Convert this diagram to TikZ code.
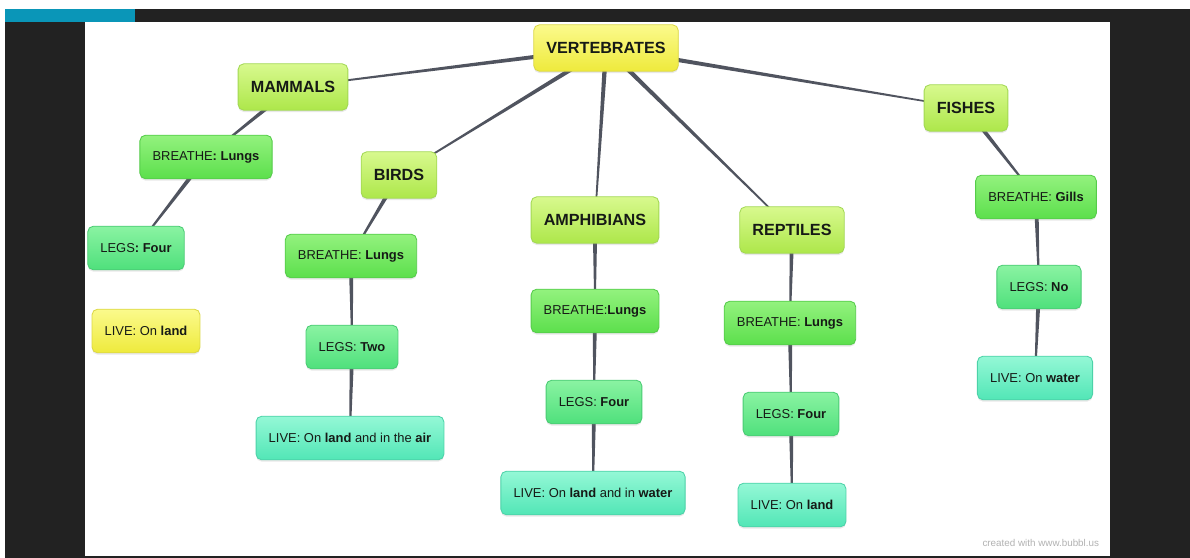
\documentclass[tikz,border=0pt]{standalone}
\usepackage{fontspec}
\setmainfont{Liberation Sans}
\usetikzlibrary{shadows,calc,backgrounds}
\definecolor{frame}{HTML}{222222}
\definecolor{tab}{HTML}{0A96B8}
\definecolor{ink}{HTML}{161A16}
\definecolor{link}{HTML}{50545F}
\definecolor{yelTop}{HTML}{FBFA8C}
\definecolor{yelBot}{HTML}{EEEA3C}
\definecolor{yelLine}{HTML}{DCD845}
\definecolor{limeTop}{HTML}{D8F98E}
\definecolor{limeBot}{HTML}{ADE74A}
\definecolor{limeLine}{HTML}{A2D853}
\definecolor{grnTop}{HTML}{93F27E}
\definecolor{grnBot}{HTML}{5CDF4C}
\definecolor{grnLine}{HTML}{55CC4A}
\definecolor{legTop}{HTML}{8AF3A2}
\definecolor{legBot}{HTML}{4FE07C}
\definecolor{legLine}{HTML}{4ACB74}
\definecolor{aquaTop}{HTML}{94F8D6}
\definecolor{aquaBot}{HTML}{52E6B6}
\definecolor{aquaLine}{HTML}{4CD2A8}
\tikzset{
	box/.style={rounded corners=4pt, inner xsep=9pt, minimum height=31pt, text=ink,
		line width=0.6pt, font=\fontsize{9.2}{11}\selectfont,
		drop shadow={opacity=0.18, shadow xshift=0pt, shadow yshift=-1.3pt}},
	rootbox/.style={box, top color=yelTop, bottom color=yelBot, draw=yelLine,
		minimum height=33pt, font=\bfseries\fontsize{11.5}{13}\selectfont},
	groupbox/.style={box, top color=limeTop, bottom color=limeBot, draw=limeLine,
		minimum height=33pt, font=\bfseries\fontsize{11.5}{13}\selectfont},
	breathebox/.style={box, top color=grnTop, bottom color=grnBot, draw=grnLine},
	legsbox/.style={box, top color=legTop, bottom color=legBot, draw=legLine},
	livebox/.style={box, top color=aquaTop, bottom color=aquaBot, draw=aquaLine},
	landbox/.style={box, top color=yelTop, bottom color=yelBot, draw=yelLine}
}
% tapered link, thick at the parent end
\newcommand{\taper}[2]{\fill[link] ($(#1.center)!1.7pt!90:(#2.center)$) -- ($(#2.center)!0.45pt!-90:(#1.center)$) -- ($(#2.center)!0.45pt!90:(#1.center)$) -- ($(#1.center)!1.7pt!-90:(#2.center)$) -- cycle;}
\begin{document}
\begin{tikzpicture}[x=0.025cm, y=-0.025cm]
		% screen frame
		\useasboundingbox (0,0) rectangle (1190,558);
		\begin{scope}[on background layer]
		\fill[white] (0,0) rectangle (1190,558);
		\fill[frame] (5,9) rectangle (1190,558);
		\fill[tab] (5,9) rectangle (135,22);
		\fill[white] (85,22) rectangle (1110,556);
		\end{scope}
		%root and groups
		\node[rootbox] (vert) at (606,48) {VERTEBRATES};
		\node[groupbox] (mammals) at (293,87) {MAMMALS};
		\node[groupbox] (birds) at (399,175) {BIRDS};
		\node[groupbox] (amphib) at (595,220) {AMPHIBIANS};
		\node[groupbox] (reptiles) at (792,230) {REPTILES};
		\node[groupbox] (fishes) at (966,108) {FISHES};
		%mammals
		\node[breathebox] (mBreathe) at (206,157) {BREATHE\textbf{: Lungs}};
		\node[legsbox] (mLegs) at (136,248) {LEGS\textbf{: Four}};
		\node[landbox] (mLive) at (146,331) {LIVE: On \textbf{land}};
		%birds
		\node[breathebox] (bBreathe) at (351,256) {BREATHE: \textbf{Lungs}};
		\node[legsbox] (bLegs) at (352,347) {LEGS: \textbf{Two}};
		\node[livebox] (bLive) at (350,438) {LIVE: On \textbf{land} and in the \textbf{air}};
		%amphibians
		\node[breathebox] (aBreathe) at (595,311) {BREATHE:\textbf{Lungs}};
		\node[legsbox] (aLegs) at (594,402) {LEGS: \textbf{Four}};
		\node[livebox] (aLive) at (593,493) {LIVE: On \textbf{land} and in \textbf{water}};
		%reptiles
		\node[breathebox] (rBreathe) at (790,323) {BREATHE: \textbf{Lungs}};
		\node[legsbox] (rLegs) at (791,414) {LEGS: \textbf{Four}};
		\node[livebox] (rLive) at (792,505) {LIVE: On \textbf{land}};
		%fishes
		\node[breathebox] (fBreathe) at (1036,197) {BREATHE: \textbf{Gills}};
		\node[legsbox] (fLegs) at (1039,287) {LEGS: \textbf{No}};
		\node[livebox] (fLive) at (1035,378) {LIVE: On \textbf{water}};
		%links, under the boxes
		\begin{scope}[on background layer]
		\taper{vert}{mammals}
		\taper{vert}{birds}
		\taper{vert}{amphib}
		\taper{vert}{reptiles}
		\taper{vert}{fishes}
		\taper{mammals}{mBreathe}
		\taper{mBreathe}{mLegs}
		\taper{birds}{bBreathe}
		\taper{bBreathe}{bLegs}
		\taper{bLegs}{bLive}
		\taper{amphib}{aBreathe}
		\taper{aBreathe}{aLegs}
		\taper{aLegs}{aLive}
		\taper{reptiles}{rBreathe}
		\taper{rBreathe}{rLegs}
		\taper{rLegs}{rLive}
		\taper{fishes}{fBreathe}
		\taper{fBreathe}{fLegs}
		\taper{fLegs}{fLive}
		\end{scope}
		\node[text=gray!60, font=\fontsize{7}{8}\selectfont, anchor=east] (credit) at (1104,543) {created with www.bubbl.us};
	\end{tikzpicture}
\end{document}
